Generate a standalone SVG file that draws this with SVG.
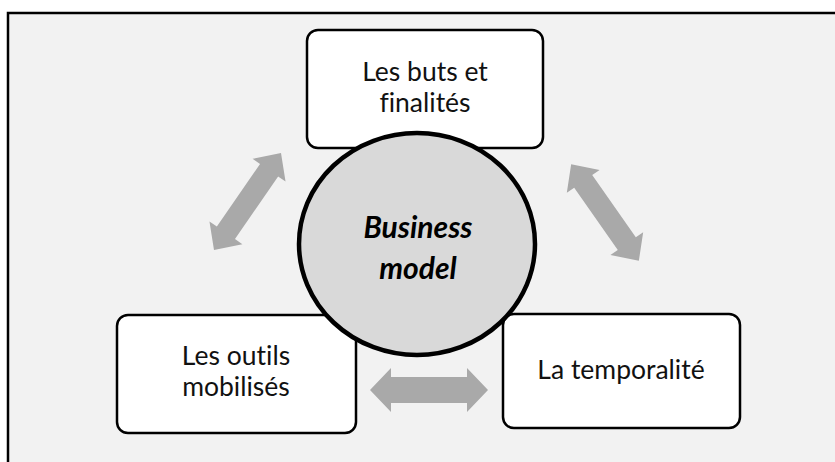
<svg xmlns="http://www.w3.org/2000/svg" width="835" height="462" viewBox="0 0 835 462">
<style>
.box{fill:#ffffff;stroke:#000000;stroke-width:2.5}
.lbl{font-family:Lato,"Open Sans",sans-serif;font-size:26.5px;fill:#111111;text-anchor:middle;font-variant-ligatures:none}
.ctr{font-family:Lato,"Open Sans",sans-serif;font-size:30px;font-weight:bold;font-style:italic;fill:#000000;text-anchor:middle;font-variant-ligatures:none}
.arr{fill:#a9a9a9}
</style>
<defs>
<path id="dbl" d="M-59,0 L-38,-20 L-38,-11 L38,-11 L38,-20 L59,0 L38,20 L38,11 L-38,11 L-38,20 Z"/>
<path id="dblh" d="M-59,0 L-38,-22 L-38,-13 L38,-13 L38,-22 L59,0 L38,22 L38,13 L-38,13 L-38,22 Z"/>
</defs>
<rect x="0" y="0" width="835" height="462" fill="#ffffff"/>
<rect x="8" y="13" width="840" height="460" fill="#f2f2f2" stroke="#000000" stroke-width="2.5"/>
<g id="connectors">
<use href="#dbl" class="arr" transform="translate(247.5,201.5) rotate(-55.4)"/>
<use href="#dbl" class="arr" transform="translate(605,212.5) rotate(55)"/>
<use href="#dblh" class="arr" transform="translate(429,390)"/>
</g>
<g id="node-buts">
<rect class="box" x="307" y="30" width="236" height="118" rx="11"/>
<text class="lbl" x="425" y="81">Les buts et</text>
<text class="lbl" x="425" y="112">finalités</text>
</g>
<g id="node-outils">
<rect class="box" x="117" y="315" width="239" height="118" rx="11"/>
<text class="lbl" x="236" y="365">Les outils</text>
<text class="lbl" x="236" y="396">mobilisés</text>
</g>
<g id="node-temporalite">
<rect class="box" x="503" y="314" width="237" height="114" rx="11"/>
<text class="lbl" x="621" y="379">La temporalité</text>
</g>
<g id="node-business">
<ellipse cx="417" cy="244" rx="118" ry="111" fill="#d9d9d9" stroke="#000000" stroke-width="4.5"/>
<text class="ctr" x="418" y="238">Business</text>
<text class="ctr" x="418" y="279">model</text>
</g>
</svg>
